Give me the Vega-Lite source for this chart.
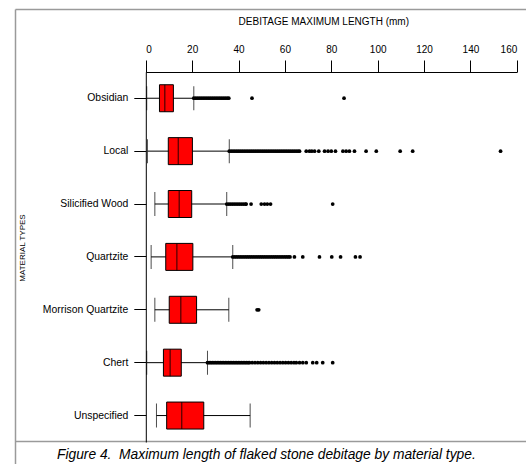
{
  "$schema": "https://vega.github.io/schema/vega-lite/v6.json",
  "width": 511,
  "height": 432,
  "autosize": "none",
  "padding": {"left": 15, "top": 9, "right": 0, "bottom": 23},
  "title": {
    "text": "Figure 4.\u00a0 Maximum length of flaked stone debitage by material type.",
    "orient": "bottom",
    "anchor": "start",
    "dx": 42,
    "offset": -21.5,
    "fontSize": 13.8,
    "fontStyle": "italic",
    "fontWeight": "normal",
    "color": "black"
  },
  "datasets": {
    "boxes": [
      {"m": "Obsidian", "lo": 0.4, "q1": 5.9, "med": 8.2, "q3": 11.9, "hi": 20.7},
      {"m": "Local", "lo": 0.7, "q1": 9.7, "med": 14.0, "q3": 20.1, "hi": 36.0},
      {"m": "Silicified Wood", "lo": 3.9, "q1": 9.7, "med": 14.4, "q3": 19.8, "hi": 34.9},
      {"m": "Quartzite", "lo": 2.3, "q1": 8.6, "med": 13.4, "q3": 20.3, "hi": 37.5},
      {"m": "Morrison Quartzite", "lo": 3.9, "q1": 10.1, "med": 15.1, "q3": 21.9, "hi": 35.8},
      {"m": "Chert", "lo": 0.4, "q1": 7.6, "med": 10.5, "q3": 15.3, "hi": 26.6},
      {"m": "Unspecified", "lo": 4.6, "q1": 9.0, "med": 15.5, "q3": 25.0, "hi": 45.0}
    ],
    "outliers": [
      {"m": "Obsidian", "v": 20.7}, {"m": "Obsidian", "v": 21.5}, {"m": "Obsidian", "v": 22.3},
      {"m": "Obsidian", "v": 23.1}, {"m": "Obsidian", "v": 23.9}, {"m": "Obsidian", "v": 24.7},
      {"m": "Obsidian", "v": 25.5}, {"m": "Obsidian", "v": 26.3}, {"m": "Obsidian", "v": 27.1},
      {"m": "Obsidian", "v": 27.9}, {"m": "Obsidian", "v": 28.7}, {"m": "Obsidian", "v": 29.5},
      {"m": "Obsidian", "v": 30.3}, {"m": "Obsidian", "v": 31.1}, {"m": "Obsidian", "v": 31.9},
      {"m": "Obsidian", "v": 32.7}, {"m": "Obsidian", "v": 33.5}, {"m": "Obsidian", "v": 34.3},
      {"m": "Obsidian", "v": 35.1}, {"m": "Obsidian", "v": 35.8}, {"m": "Obsidian", "v": 45.8},
      {"m": "Obsidian", "v": 85.5},

      {"m": "Local", "v": 36.0}, {"m": "Local", "v": 36.8}, {"m": "Local", "v": 37.6},
      {"m": "Local", "v": 38.4}, {"m": "Local", "v": 39.2}, {"m": "Local", "v": 40.0},
      {"m": "Local", "v": 40.8}, {"m": "Local", "v": 41.6}, {"m": "Local", "v": 42.4},
      {"m": "Local", "v": 43.2}, {"m": "Local", "v": 44.0}, {"m": "Local", "v": 44.8},
      {"m": "Local", "v": 45.6}, {"m": "Local", "v": 46.4}, {"m": "Local", "v": 47.2},
      {"m": "Local", "v": 48.0}, {"m": "Local", "v": 48.8}, {"m": "Local", "v": 49.6},
      {"m": "Local", "v": 50.4}, {"m": "Local", "v": 51.2}, {"m": "Local", "v": 52.0},
      {"m": "Local", "v": 52.8}, {"m": "Local", "v": 53.6}, {"m": "Local", "v": 54.4},
      {"m": "Local", "v": 55.2}, {"m": "Local", "v": 56.0}, {"m": "Local", "v": 56.8},
      {"m": "Local", "v": 57.6}, {"m": "Local", "v": 58.4}, {"m": "Local", "v": 59.2},
      {"m": "Local", "v": 60.0}, {"m": "Local", "v": 60.8}, {"m": "Local", "v": 61.6},
      {"m": "Local", "v": 62.4}, {"m": "Local", "v": 63.2}, {"m": "Local", "v": 64.0},
      {"m": "Local", "v": 64.8}, {"m": "Local", "v": 65.6}, {"m": "Local", "v": 66.3},
      {"m": "Local", "v": 69.2}, {"m": "Local", "v": 70.6}, {"m": "Local", "v": 71.6},
      {"m": "Local", "v": 72.8}, {"m": "Local", "v": 74.6}, {"m": "Local", "v": 77.1},
      {"m": "Local", "v": 78.6}, {"m": "Local", "v": 80.0}, {"m": "Local", "v": 81.8},
      {"m": "Local", "v": 85.0}, {"m": "Local", "v": 86.4}, {"m": "Local", "v": 87.8},
      {"m": "Local", "v": 90.0}, {"m": "Local", "v": 95.0}, {"m": "Local", "v": 99.4},
      {"m": "Local", "v": 109.7}, {"m": "Local", "v": 115.1}, {"m": "Local", "v": 153.0},

      {"m": "Silicified Wood", "v": 34.9}, {"m": "Silicified Wood", "v": 35.7},
      {"m": "Silicified Wood", "v": 36.5}, {"m": "Silicified Wood", "v": 37.3},
      {"m": "Silicified Wood", "v": 38.1}, {"m": "Silicified Wood", "v": 38.9},
      {"m": "Silicified Wood", "v": 39.7}, {"m": "Silicified Wood", "v": 40.5},
      {"m": "Silicified Wood", "v": 41.3}, {"m": "Silicified Wood", "v": 42.1},
      {"m": "Silicified Wood", "v": 42.9}, {"m": "Silicified Wood", "v": 43.3},
      {"m": "Silicified Wood", "v": 45.4}, {"m": "Silicified Wood", "v": 49.8},
      {"m": "Silicified Wood", "v": 51.2}, {"m": "Silicified Wood", "v": 52.4},
      {"m": "Silicified Wood", "v": 53.8}, {"m": "Silicified Wood", "v": 80.6},

      {"m": "Quartzite", "v": 37.5}, {"m": "Quartzite", "v": 38.3}, {"m": "Quartzite", "v": 39.1},
      {"m": "Quartzite", "v": 39.9}, {"m": "Quartzite", "v": 40.7}, {"m": "Quartzite", "v": 41.5},
      {"m": "Quartzite", "v": 42.3}, {"m": "Quartzite", "v": 43.1}, {"m": "Quartzite", "v": 43.9},
      {"m": "Quartzite", "v": 44.7}, {"m": "Quartzite", "v": 45.5}, {"m": "Quartzite", "v": 46.3},
      {"m": "Quartzite", "v": 47.1}, {"m": "Quartzite", "v": 47.9}, {"m": "Quartzite", "v": 48.7},
      {"m": "Quartzite", "v": 49.5}, {"m": "Quartzite", "v": 50.3}, {"m": "Quartzite", "v": 51.1},
      {"m": "Quartzite", "v": 51.9}, {"m": "Quartzite", "v": 52.7}, {"m": "Quartzite", "v": 53.5},
      {"m": "Quartzite", "v": 54.3}, {"m": "Quartzite", "v": 55.1}, {"m": "Quartzite", "v": 55.9},
      {"m": "Quartzite", "v": 56.7}, {"m": "Quartzite", "v": 57.5}, {"m": "Quartzite", "v": 58.3},
      {"m": "Quartzite", "v": 59.1}, {"m": "Quartzite", "v": 59.9}, {"m": "Quartzite", "v": 60.7},
      {"m": "Quartzite", "v": 61.5}, {"m": "Quartzite", "v": 62.2}, {"m": "Quartzite", "v": 64.1},
      {"m": "Quartzite", "v": 67.7}, {"m": "Quartzite", "v": 74.9}, {"m": "Quartzite", "v": 80.2},
      {"m": "Quartzite", "v": 84.0}, {"m": "Quartzite", "v": 90.4}, {"m": "Quartzite", "v": 92.4},

      {"m": "Morrison Quartzite", "v": 48.0}, {"m": "Morrison Quartzite", "v": 48.7},

      {"m": "Chert", "v": 26.6}, {"m": "Chert", "v": 27.3}, {"m": "Chert", "v": 28.0},
      {"m": "Chert", "v": 28.7}, {"m": "Chert", "v": 29.4}, {"m": "Chert", "v": 30.1},
      {"m": "Chert", "v": 30.8}, {"m": "Chert", "v": 31.5}, {"m": "Chert", "v": 32.2},
      {"m": "Chert", "v": 32.9}, {"m": "Chert", "v": 33.6}, {"m": "Chert", "v": 34.3},
      {"m": "Chert", "v": 35.0}, {"m": "Chert", "v": 35.7}, {"m": "Chert", "v": 36.4},
      {"m": "Chert", "v": 37.1}, {"m": "Chert", "v": 37.8}, {"m": "Chert", "v": 38.5},
      {"m": "Chert", "v": 39.2}, {"m": "Chert", "v": 39.9}, {"m": "Chert", "v": 40.6},
      {"m": "Chert", "v": 41.3}, {"m": "Chert", "v": 42.0}, {"m": "Chert", "v": 42.7},
      {"m": "Chert", "v": 43.4}, {"m": "Chert", "v": 44.1}, {"m": "Chert", "v": 44.7},
      {"m": "Chert", "v": 45.9}, {"m": "Chert", "v": 47.1}, {"m": "Chert", "v": 48.3},
      {"m": "Chert", "v": 49.5}, {"m": "Chert", "v": 50.7}, {"m": "Chert", "v": 51.9},
      {"m": "Chert", "v": 53.1}, {"m": "Chert", "v": 54.3}, {"m": "Chert", "v": 55.5},
      {"m": "Chert", "v": 56.7}, {"m": "Chert", "v": 57.9}, {"m": "Chert", "v": 59.1},
      {"m": "Chert", "v": 60.3}, {"m": "Chert", "v": 61.5}, {"m": "Chert", "v": 62.7},
      {"m": "Chert", "v": 63.9}, {"m": "Chert", "v": 64.9}, {"m": "Chert", "v": 66.3},
      {"m": "Chert", "v": 67.7}, {"m": "Chert", "v": 69.2}, {"m": "Chert", "v": 72.0},
      {"m": "Chert", "v": 73.7}, {"m": "Chert", "v": 76.3}, {"m": "Chert", "v": 80.6}
    ]
  },
  "layer": [
    {
      "encoding": {
        "y": {
          "field": "m",
          "type": "nominal",
          "title": "MATERIAL TYPES",
          "scale": {
            "domain": ["Obsidian", "Local", "Silicified Wood", "Quartzite", "Morrison Quartzite", "Chert", "Unspecified"],
            "range": [62.8, 433],
            "paddingInner": 0,
            "paddingOuter": 0
          },
          "axis": {
            "orient": "left",
            "offset": -130.8,
            "domainColor": "black",
            "domainWidth": 1,
            "tickColor": "black",
            "tickSize": 12,
            "labelPadding": 6,
            "labelFontSize": 10.4,
            "labelColor": "black",
            "titleFontSize": 8,
            "titleFontWeight": "normal",
            "titleColor": "black",
            "titleX": -121.2,
            "titleY": 238.5,
            "titleBaseline": "alphabetic",
            "titleAlign": "center",
            "grid": false
          }
        }
      },
      "layer": [
        {
          "data": {"name": "boxes"},
          "mark": {"type": "rule", "color": "black", "strokeWidth": 1},
          "encoding": {
            "x": {
              "field": "lo",
              "type": "quantitative",
              "title": "DEBITAGE MAXIMUM LENGTH (mm)",
              "scale": {"domain": [0, 160], "range": [130.8, 501.8], "nice": false, "zero": false},
              "axis": {
                "orient": "top",
                "offset": -63,
                "values": [0, 10, 20, 30, 40, 50, 60, 70, 80, 90, 100, 110, 120, 130, 140, 150, 160],
                "labelExpr": "datum.value % 20 === 0 ? datum.label : ''",
                "labelOverlap": false,
                "tickSize": {"condition": {"test": "datum.value % 20 === 0", "value": 12}, "value": 6},
                "tickColor": "black",
                "domainColor": "black",
                "domainWidth": 1,
                "labelFontSize": 10,
                "labelColor": "black",
                "labelPadding": 6,
                "titleFontSize": 10,
                "titleFontWeight": "normal",
                "titleColor": "black",
                "titleX": 308.3,
                "titleY": -47.7,
                "titleBaseline": "alphabetic",
                "titleAlign": "center",
                "grid": false
              }
            },
            "x2": {"field": "hi"}
          }
        },
        {
          "data": {"name": "boxes"},
          "mark": {"type": "tick", "color": "black", "size": 24, "thickness": 1},
          "encoding": {"x": {"field": "lo", "type": "quantitative", "title": "DEBITAGE MAXIMUM LENGTH (mm)"}}
        },
        {
          "data": {"name": "boxes"},
          "mark": {"type": "tick", "color": "black", "size": 24, "thickness": 1},
          "encoding": {"x": {"field": "hi", "type": "quantitative", "title": "DEBITAGE MAXIMUM LENGTH (mm)"}}
        },
        {
          "data": {"name": "boxes"},
          "mark": {"type": "bar", "fill": "#ff0000", "stroke": "black", "strokeWidth": 1, "size": 27},
          "encoding": {
            "x": {"field": "q1", "type": "quantitative", "title": "DEBITAGE MAXIMUM LENGTH (mm)"},
            "x2": {"field": "q3"}
          }
        },
        {
          "data": {"name": "boxes"},
          "mark": {"type": "tick", "color": "black", "size": 27, "thickness": 1.2},
          "encoding": {"x": {"field": "med", "type": "quantitative", "title": "DEBITAGE MAXIMUM LENGTH (mm)"}}
        },
        {
          "data": {"name": "outliers"},
          "mark": {"type": "circle", "color": "black", "size": 14, "opacity": 1},
          "encoding": {"x": {"field": "v", "type": "quantitative", "title": "DEBITAGE MAXIMUM LENGTH (mm)"}}
        }
      ]
    },
    {
      "data": {"name": "boxes"},
      "mark": {"type": "point", "opacity": 0},
      "encoding": {
        "x": {
          "field": "lo",
          "type": "quantitative",
          "scale": {"domain": [0, 50], "range": [0, 530], "nice": false, "zero": false},
          "axis": {"orient": "top", "offset": 0, "domainColor": "#9a9a9a", "domainWidth": 1.5, "ticks": false, "labels": false, "title": null, "grid": false}
        }
      }
    },
    {
      "data": {"name": "boxes"},
      "mark": {"type": "point", "opacity": 0},
      "encoding": {
        "x": {
          "field": "hi",
          "type": "quantitative",
          "scale": {"domain": [0, 50], "range": [0, 530], "nice": false, "zero": false},
          "axis": {"orient": "bottom", "offset": 0, "domainColor": "#9a9a9a", "domainWidth": 1.5, "ticks": false, "labels": false, "title": null, "grid": false}
        }
      }
    },
    {
      "data": {"name": "boxes"},
      "mark": {"type": "point", "opacity": 0},
      "encoding": {
        "y": {
          "field": "q1",
          "type": "quantitative",
          "scale": {"domain": [0, 50], "range": [0, 460], "nice": false, "zero": false},
          "axis": {"orient": "left", "offset": 0, "domainColor": "#9a9a9a", "domainWidth": 1.5, "ticks": false, "labels": false, "title": null, "grid": false}
        }
      }
    }
  ],
  "resolve": {
    "scale": {"x": "independent", "y": "independent"},
    "axis": {"x": "independent", "y": "independent"}
  },
  "config": {
    "font": "Liberation Sans",
    "view": {"stroke": null},
    "axis": {"grid": false}
  }
}
